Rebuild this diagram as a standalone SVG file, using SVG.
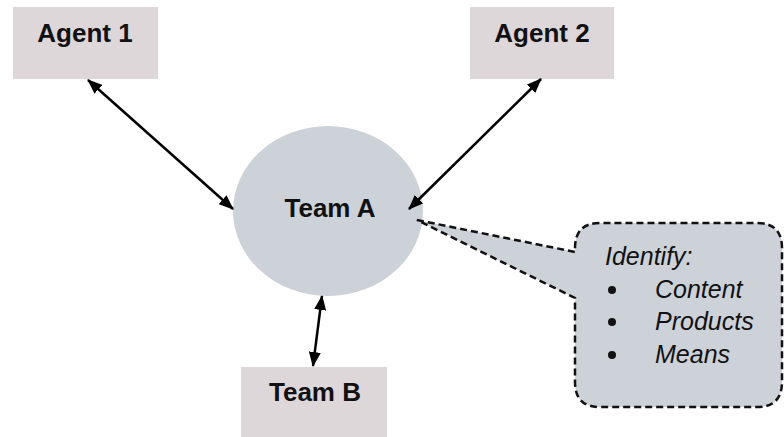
<svg xmlns="http://www.w3.org/2000/svg" width="784" height="437" viewBox="0 0 784 437">
<defs>
<marker id="ah" viewBox="0 0 15 12" refX="14" refY="6" markerWidth="6" markerHeight="4.8" markerUnits="strokeWidth" orient="auto-start-reverse">
<path d="M0,0 L15,6 L0,12 Z" fill="#000"/>
</marker>
<style>
.box{fill:#ded7d9;}
.lbl{font-family:"Liberation Sans",Arial,sans-serif;font-weight:bold;font-size:26px;fill:#111;text-anchor:middle;}
.it{font-family:"Liberation Sans",Arial,sans-serif;font-style:italic;font-size:25px;fill:#111;}
.conn{stroke:#000;stroke-width:2.5;fill:none;marker-start:url(#ah);marker-end:url(#ah);}
</style>
</defs>
<rect width="784" height="437" fill="#fff"/>
<g id="agent1">
<rect class="box" x="13" y="7" width="145" height="72"/>
<text class="lbl" x="85" y="42">Agent 1</text>
</g>
<g id="agent2">
<rect class="box" x="470" y="7" width="144" height="72"/>
<text class="lbl" x="542" y="42">Agent 2</text>
</g>
<g id="teamA">
<ellipse cx="328" cy="211" rx="95" ry="85" fill="#cdd2d9"/>
<text class="lbl" x="330" y="217">Team A</text>
</g>
<g id="teamB">
<rect class="box" x="241" y="367" width="146" height="70"/>
<text class="lbl" x="315" y="401">Team B</text>
</g>
<g id="connectors">
<line class="conn" x1="88" y1="80" x2="233" y2="209"/>
<line class="conn" x1="541" y1="79" x2="409" y2="209"/>
<line class="conn" x1="322" y1="296" x2="313" y2="366"/>
</g>
<g id="callout">
<path d="M417,220 L575,252 L575,248 Q575,223 600,223 L757,223 Q782,223 782,248 L782,382 Q782,407 757,407 L600,407 Q575,407 575,382 L575,298 Z" fill="#cdd1d8" stroke="#111" stroke-width="2.5" stroke-dasharray="7,4"/>
<text class="it" x="605" y="265">Identify:</text>
<circle cx="612" cy="290" r="4" fill="#111"/>
<circle cx="612" cy="322" r="4" fill="#111"/>
<circle cx="612" cy="355" r="4" fill="#111"/>
<text class="it" x="655" y="298">Content</text>
<text class="it" x="655" y="330">Products</text>
<text class="it" x="655" y="363">Means</text>
</g>
</svg>
